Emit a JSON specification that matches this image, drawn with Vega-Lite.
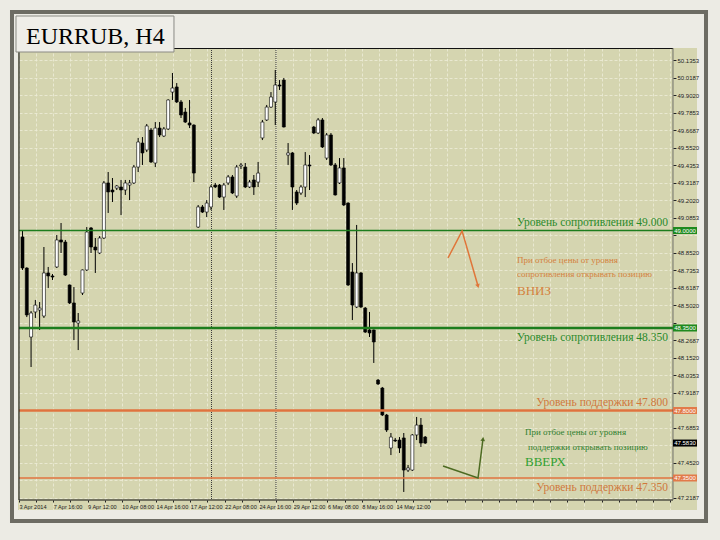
{
  "$schema": "https://vega.github.io/schema/vega-lite/v6.json",
  "width": 679,
  "height": 462,
  "autosize": {"type": "none"},
  "padding": {"left": 18, "top": 48, "right": 23, "bottom": 30},
  "background": "#ecebe4",
  "config": {"view": {"fill": "#d5d5b0", "stroke": null}},
  "datasets": {
    "candles": [
      {"i":0,"o":48.957,"h":49.003,"l":48.737,"c":48.750},
      {"i":1,"o":48.750,"h":48.755,"l":48.423,"c":48.437},
      {"i":2,"o":48.290,"h":48.463,"l":48.090,"c":48.450},
      {"i":3,"o":48.457,"h":48.537,"l":48.417,"c":48.503},
      {"i":4,"o":48.470,"h":48.523,"l":48.337,"c":48.483},
      {"i":5,"o":48.430,"h":48.890,"l":48.417,"c":48.717},
      {"i":6,"o":48.717,"h":48.757,"l":48.617,"c":48.697},
      {"i":7,"o":48.697,"h":48.710,"l":48.670,"c":48.690},
      {"i":8,"o":48.757,"h":48.970,"l":48.750,"c":48.937},
      {"i":9,"o":48.937,"h":49.050,"l":48.850,"c":48.923},
      {"i":10,"o":48.923,"h":48.937,"l":48.697,"c":48.703},
      {"i":11,"o":48.637,"h":48.640,"l":48.510,"c":48.517},
      {"i":12,"o":48.517,"h":48.623,"l":48.270,"c":48.390},
      {"i":13,"o":48.383,"h":48.450,"l":48.203,"c":48.397},
      {"i":14,"o":48.583,"h":48.740,"l":48.570,"c":48.737},
      {"i":15,"o":48.737,"h":49.023,"l":48.730,"c":48.990},
      {"i":16,"o":49.017,"h":49.023,"l":48.850,"c":48.890},
      {"i":17,"o":48.890,"h":48.950,"l":48.717,"c":48.870},
      {"i":18,"o":48.850,"h":48.963,"l":48.843,"c":48.950},
      {"i":19,"o":48.950,"h":49.330,"l":48.943,"c":49.317},
      {"i":20,"o":49.317,"h":49.390,"l":49.117,"c":49.257},
      {"i":21,"o":49.270,"h":49.350,"l":49.190,"c":49.257},
      {"i":22,"o":49.283,"h":49.303,"l":49.270,"c":49.297},
      {"i":23,"o":49.290,"h":49.337,"l":49.103,"c":49.270},
      {"i":24,"o":49.270,"h":49.337,"l":49.237,"c":49.317},
      {"i":25,"o":49.303,"h":49.337,"l":49.203,"c":49.317},
      {"i":26,"o":49.317,"h":49.437,"l":49.310,"c":49.423},
      {"i":27,"o":49.423,"h":49.617,"l":49.390,"c":49.590},
      {"i":28,"o":49.583,"h":49.623,"l":49.437,"c":49.517},
      {"i":29,"o":49.537,"h":49.710,"l":49.523,"c":49.697},
      {"i":30,"o":49.670,"h":49.683,"l":49.450,"c":49.457},
      {"i":31,"o":49.450,"h":49.723,"l":49.423,"c":49.683},
      {"i":32,"o":49.683,"h":49.723,"l":49.623,"c":49.637},
      {"i":33,"o":49.630,"h":49.690,"l":49.623,"c":49.677},
      {"i":34,"o":49.677,"h":49.875,"l":49.670,"c":49.870},
      {"i":35,"o":49.923,"h":50.050,"l":49.870,"c":49.950},
      {"i":36,"o":49.957,"h":49.983,"l":49.850,"c":49.857},
      {"i":37,"o":49.857,"h":49.870,"l":49.750,"c":49.770},
      {"i":38,"o":49.790,"h":49.817,"l":49.717,"c":49.723},
      {"i":39,"o":49.717,"h":49.870,"l":49.683,"c":49.703},
      {"i":40,"o":49.703,"h":49.708,"l":49.323,"c":49.383},
      {"i":41,"o":49.023,"h":49.170,"l":49.017,"c":49.157},
      {"i":42,"o":49.157,"h":49.170,"l":49.117,"c":49.123},
      {"i":43,"o":49.123,"h":49.203,"l":49.090,"c":49.183},
      {"i":44,"o":49.157,"h":49.303,"l":49.137,"c":49.290},
      {"i":45,"o":49.303,"h":49.317,"l":49.283,"c":49.290},
      {"i":46,"o":49.303,"h":49.310,"l":49.217,"c":49.223},
      {"i":47,"o":49.223,"h":49.317,"l":49.137,"c":49.303},
      {"i":48,"o":49.317,"h":49.370,"l":49.303,"c":49.357},
      {"i":49,"o":49.357,"h":49.370,"l":49.243,"c":49.250},
      {"i":50,"o":49.230,"h":49.437,"l":49.217,"c":49.423},
      {"i":51,"o":49.430,"h":49.450,"l":49.410,"c":49.437},
      {"i":52,"o":49.423,"h":49.450,"l":49.283,"c":49.290},
      {"i":53,"o":49.290,"h":49.337,"l":49.283,"c":49.323},
      {"i":54,"o":49.337,"h":49.370,"l":49.237,"c":49.290},
      {"i":55,"o":49.323,"h":49.457,"l":49.290,"c":49.383},
      {"i":56,"o":49.617,"h":49.737,"l":49.603,"c":49.723},
      {"i":57,"o":49.737,"h":49.837,"l":49.730,"c":49.823},
      {"i":58,"o":49.823,"h":49.923,"l":49.817,"c":49.890},
      {"i":59,"o":49.857,"h":50.070,"l":49.703,"c":49.970},
      {"i":60,"o":49.970,"h":50.003,"l":49.937,"c":49.963},
      {"i":61,"o":50.003,"h":50.017,"l":49.687,"c":49.690},
      {"i":62,"o":49.503,"h":49.583,"l":49.437,"c":49.517},
      {"i":63,"o":49.517,"h":49.523,"l":49.137,"c":49.290},
      {"i":64,"o":49.257,"h":49.270,"l":49.170,"c":49.183},
      {"i":65,"o":49.250,"h":49.303,"l":49.237,"c":49.290},
      {"i":66,"o":49.290,"h":49.523,"l":49.223,"c":49.437},
      {"i":67,"o":49.437,"h":49.503,"l":49.270,"c":49.430},
      {"i":68,"o":49.690,"h":49.697,"l":49.643,"c":49.650},
      {"i":69,"o":49.650,"h":49.750,"l":49.643,"c":49.737},
      {"i":70,"o":49.737,"h":49.750,"l":49.550,"c":49.557},
      {"i":71,"o":49.483,"h":49.650,"l":49.470,"c":49.637},
      {"i":72,"o":49.637,"h":49.650,"l":49.430,"c":49.437},
      {"i":73,"o":49.437,"h":49.450,"l":49.233,"c":49.237},
      {"i":74,"o":49.317,"h":49.483,"l":49.310,"c":49.417},
      {"i":75,"o":49.417,"h":49.483,"l":49.163,"c":49.170},
      {"i":76,"o":49.183,"h":49.188,"l":48.630,"c":48.637},
      {"i":77,"o":48.723,"h":48.783,"l":48.403,"c":48.503},
      {"i":78,"o":48.490,"h":49.037,"l":48.483,"c":48.717},
      {"i":79,"o":48.717,"h":48.723,"l":48.483,"c":48.490},
      {"i":80,"o":48.483,"h":48.490,"l":48.317,"c":48.323},
      {"i":81,"o":48.337,"h":48.457,"l":48.290,"c":48.317},
      {"i":82,"o":48.337,"h":48.340,"l":48.117,"c":48.257},
      {"i":83,"o":48.003,"h":48.010,"l":47.970,"c":47.977},
      {"i":84,"o":47.950,"h":47.957,"l":47.763,"c":47.770},
      {"i":85,"o":47.770,"h":47.777,"l":47.657,"c":47.670},
      {"i":86,"o":47.550,"h":47.650,"l":47.503,"c":47.623},
      {"i":87,"o":47.603,"h":47.617,"l":47.590,"c":47.597},
      {"i":88,"o":47.603,"h":47.623,"l":47.517,"c":47.550},
      {"i":89,"o":47.617,"h":47.650,"l":47.257,"c":47.403},
      {"i":90,"o":47.403,"h":47.437,"l":47.390,"c":47.417},
      {"i":91,"o":47.403,"h":47.643,"l":47.397,"c":47.637},
      {"i":92,"o":47.637,"h":47.757,"l":47.603,"c":47.703},
      {"i":93,"o":47.703,"h":47.750,"l":47.557,"c":47.583},
      {"i":94,"o":47.623,"h":47.630,"l":47.577,"c":47.583}
    ],
    "levels": [
      {"price":49.0,"label":"Уровень сопротивления  49.000","type":"resistance"},
      {"price":48.35,"label":"Уровень сопротивления  48.350","type":"resistance"},
      {"price":47.8,"label":"Уровень поддержки  47.800","type":"support"},
      {"price":47.35,"label":"Уровень поддержки  47.350","type":"support"}
    ],
    "notes": [
      {"t":"При отбое цены от уровня","i":115.43,"p":48.803,"g":"sell"},
      {"t":"сопротивления открывать позицию","i":115.43,"p":48.71,"g":"sell"},
      {"t":"ВНИЗ","i":115.43,"p":48.597,"g":"sell"},
      {"t":"При отбое цены от уровня","i":117.3,"p":47.657,"g":"buy"},
      {"t":"поддержки открывать позицию","i":118.0,"p":47.557,"g":"buy"},
      {"t":"ВВЕРХ","i":117.3,"p":47.457,"g":"buy"}
    ],
    "sellArrow": [
      {"i":99.33,"p":48.817,"k":1},
      {"i":102.61,"p":48.997,"k":2},
      {"i":106.33,"p":48.63,"k":3}
    ],
    "buyArrow": [
      {"i":98.16,"p":47.43,"k":1},
      {"i":106.33,"p":47.35,"k":2},
      {"i":107.49,"p":47.61,"k":3}
    ],
    "separators": [{"s":44.12},{"s":59.17}]
  },
  "layer": [
    {
      "data": {"values": [{}]},
      "mark": {"type": "rect", "fillOpacity": 0, "stroke": "#6d6c63", "strokeWidth": 4},
      "encoding": {
        "x": {"datum": -2.451}, "x2": {"datum": 159.55},
        "y": {"datum": 50.4567}, "y2": {"datum": 47.0633}
      }
    },
    {
      "data": {"name": "separators"},
      "mark": {"type": "rule", "stroke": "#3a3a3a", "strokeDash": [1, 1], "strokeWidth": 1},
      "encoding": {
        "x": {"field": "s", "type": "quantitative"},
        "y": {"datum": 50.2167}, "y2": {"datum": 47.2033}
      }
    },
    {
      "data": {"name": "candles"},
      "mark": {"type": "rule", "stroke": "#000000", "strokeWidth": 1},
      "encoding": {
        "x": {
          "field": "i", "type": "quantitative",
          "scale": {"domain": [-1.0504, 157.4466], "nice": false, "zero": false, "padding": 0},
          "axis": {
            "orient": "bottom", "offset": -10, "title": null, "domain": false, "tickCount": 200,
            "values": [-0.82,3.18,7.18,11.18,15.18,19.18,23.18,27.18,31.18,35.18,39.18,43.18,47.18,51.18,55.18,59.18,63.18,67.18,71.18,75.18,79.18,83.18,87.18,91.18,95.18,99.18,103.18,107.18,111.18,115.18,119.18,123.18,127.18,131.18,135.18,139.18,143.18,147.18,151.18],
            "labelExpr": "(round((datum.value+0.82)/4) % 2 == 0) ? (['3 Apr 2014','7 Apr 16:00','9 Apr 12:00','10 Apr 08:00','14 Apr 16:00','17 Apr 12:00','22 Apr 08:00','24 Apr 16:00','29 Apr 12:00','6 May 08:00','8 May 16:00','14 May 12:00'][round((datum.value+0.82)/8)] || '') : ''",
            "grid": true, "gridColor": "#ecebd7", "gridDash": [3, 2], "gridOpacity": 0.85,
            "ticks": true, "tickSize": 2, "tickColor": "#222222",
            "labelFont": "Liberation Sans", "labelFontSize": 5.6, "labelColor": "#222222",
            "labelAlign": "left", "labelBaseline": "top", "labelPadding": 2,
            "labelOverlap": false, "labelFlush": false, "labelBound": false
          }
        },
        "y": {
          "field": "l", "type": "quantitative",
          "scale": {"domain": [47.1367, 50.2167], "nice": false, "zero": false, "padding": 0},
          "axis": {
            "orient": "right", "offset": -24, "title": null, "domain": false, "tickCount": 200,
            "values": [50.1353,50.0187,49.902,49.7853,49.6687,49.552,49.4353,49.3187,49.202,49.0853,48.9687,48.852,48.7353,48.6187,48.502,48.3853,48.2687,48.152,48.0353,47.9187,47.802,47.6853,47.5687,47.452,47.3353,47.2187],
            "labelExpr": "(abs(datum.value-49)<0.04 || abs(datum.value-48.35)<0.04 || abs(datum.value-47.8)<0.04 || abs(datum.value-47.583)<0.04 || abs(datum.value-47.35)<0.04) ? '' : format(datum.value, '.4f')",
            "grid": true, "gridColor": "#ecebd7", "gridDash": [3, 2], "gridOpacity": 0.85,
            "tickSize": 3, "tickColor": "#222222",
            "labelFont": "Liberation Sans", "labelFontSize": 6, "labelColor": "#222222",
            "labelPadding": 1, "labelOverlap": false, "labelFlush": false, "labelBound": false
          }
        },
        "y2": {"field": "h"}
      }
    },
    {
      "data": {"name": "candles"},
      "mark": {"type": "bar", "size": 3, "stroke": "#000000", "strokeWidth": 0.6},
      "encoding": {
        "x": {"field": "i", "type": "quantitative", "scale": {"domain": [-1.0504, 157.4466], "nice": false, "zero": false, "padding": 0}},
        "y": {"field": "o", "type": "quantitative", "scale": {"domain": [47.1367, 50.2167], "nice": false, "zero": false, "padding": 0}},
        "y2": {"field": "c"},
        "fill": {"condition": {"test": "datum.c >= datum.o", "value": "#ffffff"}, "value": "#000000"}
      }
    },
    {
      "data": {"name": "levels"},
      "mark": {"type": "rule"},
      "encoding": {
        "x": {"datum": -0.817}, "x2": {"datum": 151.84},
        "y": {"field": "price", "type": "quantitative"},
        "stroke": {"condition": {"test": "datum.type == 'resistance'", "value": "#1d7d1d"}, "value": "#e0733f"},
        "strokeWidth": {"condition": {"test": "datum.price == 48.35 || datum.price == 47.8", "value": 2.5}, "value": 1.5}
      }
    },
    {
      "data": {"values": [{}]},
      "mark": {"type": "rule", "stroke": "#111111", "strokeWidth": 1},
      "encoding": {"x": {"datum": -0.817}, "x2": {"datum": 151.84}, "y": {"datum": 50.2133}}
    },
    {
      "data": {"values": [{}]},
      "mark": {"type": "rule", "stroke": "#111111", "strokeWidth": 1},
      "encoding": {"x": {"datum": -0.817}, "x2": {"datum": 151.84}, "y": {"datum": 47.2033}}
    },
    {
      "data": {"values": [{}]},
      "mark": {"type": "rule", "stroke": "#222222", "strokeWidth": 1.2},
      "encoding": {"x": {"datum": -0.817}, "y": {"datum": 50.2167}, "y2": {"datum": 47.2033}}
    },
    {
      "data": {"values": [{}]},
      "mark": {"type": "rule", "stroke": "#555555", "strokeWidth": 0.8},
      "encoding": {"x": {"datum": 151.84}, "y": {"datum": 50.2167}, "y2": {"datum": 47.2033}}
    },
    {
      "data": {"name": "levels"},
      "transform": [{"filter": "datum.price == 49 || datum.price == 47.8"}],
      "mark": {"type": "text", "align": "right", "baseline": "alphabetic", "dy": -5, "font": "Liberation Serif", "fontSize": 11.5},
      "encoding": {
        "x": {"datum": 150.67},
        "y": {"field": "price", "type": "quantitative"},
        "text": {"field": "label"},
        "fill": {"condition": {"test": "datum.type == 'resistance'", "value": "#2a8a2a"}, "value": "#d0783c"}
      }
    },
    {
      "data": {"name": "levels"},
      "transform": [{"filter": "datum.price == 48.35 || datum.price == 47.35"}],
      "mark": {"type": "text", "align": "right", "baseline": "alphabetic", "dy": 12.5, "font": "Liberation Serif", "fontSize": 11.5},
      "encoding": {
        "x": {"datum": 150.67},
        "y": {"field": "price", "type": "quantitative"},
        "text": {"field": "label"},
        "fill": {"condition": {"test": "datum.type == 'resistance'", "value": "#2a8a2a"}, "value": "#d0783c"}
      }
    },
    {
      "data": {"name": "notes"},
      "mark": {"type": "text", "align": "left", "baseline": "middle", "font": "Liberation Serif"},
      "encoding": {
        "x": {"field": "i", "type": "quantitative"},
        "y": {"field": "p", "type": "quantitative"},
        "text": {"field": "t"},
        "size": {"condition": {"test": "datum.t == 'ВНИЗ' || datum.t == 'ВВЕРХ'", "value": 13}, "value": 9},
        "fill": {"condition": [{"test": "datum.g == 'sell'", "value": "#d4823e"}, {"test": "datum.t == 'ВВЕРХ'", "value": "#30a030"}], "value": "#2f7f2f"}
      }
    },
    {
      "data": {"name": "sellArrow"},
      "mark": {"type": "line", "stroke": "#e0763a", "strokeWidth": 1.5},
      "encoding": {
        "x": {"field": "i", "type": "quantitative"},
        "y": {"field": "p", "type": "quantitative"},
        "order": {"field": "k"}
      }
    },
    {
      "data": {"name": "buyArrow"},
      "mark": {"type": "line", "stroke": "#4d6b22", "strokeWidth": 1.5},
      "encoding": {
        "x": {"field": "i", "type": "quantitative"},
        "y": {"field": "p", "type": "quantitative"},
        "order": {"field": "k"}
      }
    },
    {
      "data": {"values": [{}]},
      "mark": {"type": "point", "shape": "triangle-down", "filled": true, "size": 22, "angle": -16, "color": "#e0763a", "opacity": 1},
      "encoding": {"x": {"datum": 106.33}, "y": {"datum": 48.63}}
    },
    {
      "data": {"values": [{}]},
      "mark": {"type": "point", "shape": "triangle-up", "filled": true, "size": 22, "angle": 7, "color": "#4d6b22", "opacity": 1},
      "encoding": {"x": {"datum": 107.49}, "y": {"datum": 47.61}}
    },
    {
      "data": {"name": "levels"},
      "mark": {"type": "tick", "orient": "horizontal", "size": 24, "thickness": 7, "opacity": 1},
      "encoding": {
        "x": {"datum": 154.65},
        "y": {"field": "price", "type": "quantitative"},
        "color": {"condition": {"test": "datum.type == 'resistance'", "value": "#1f8a1f"}, "value": "#e27a4a"}
      }
    },
    {
      "data": {"values": [{}]},
      "mark": {"type": "tick", "orient": "horizontal", "size": 24, "thickness": 7, "opacity": 1, "color": "#000000"},
      "encoding": {"x": {"datum": 154.65}, "y": {"datum": 47.583}}
    },
    {
      "data": {"name": "levels"},
      "mark": {"type": "text", "align": "center", "baseline": "middle", "font": "Liberation Sans", "fontSize": 6, "fill": "#ffffff"},
      "encoding": {
        "x": {"datum": 154.65},
        "y": {"field": "price", "type": "quantitative"},
        "text": {"field": "price", "type": "quantitative", "format": ".4f"}
      }
    },
    {
      "data": {"values": [{}]},
      "mark": {"type": "text", "align": "center", "baseline": "middle", "font": "Liberation Sans", "fontSize": 6, "fill": "#ffffff"},
      "encoding": {"x": {"datum": 154.65}, "y": {"datum": 47.583}, "text": {"value": "47.5830"}}
    },
    {
      "data": {"values": [{}]},
      "mark": {"type": "rect", "fill": "#efeee8", "stroke": "#8b8b84", "strokeWidth": 1},
      "encoding": {"x": {"datum": -1.517}, "x2": {"datum": 35.36}, "y": {"datum": 50.43}, "y2": {"datum": 50.19}}
    },
    {
      "data": {"values": [{}]},
      "mark": {"type": "text", "align": "left", "baseline": "alphabetic", "font": "Liberation Serif", "fontSize": 24, "fill": "#000000"},
      "encoding": {"x": {"datum": 0.817}, "y": {"datum": 50.2467}, "text": {"value": "EURRUB, H4"}}
    }
  ]
}
